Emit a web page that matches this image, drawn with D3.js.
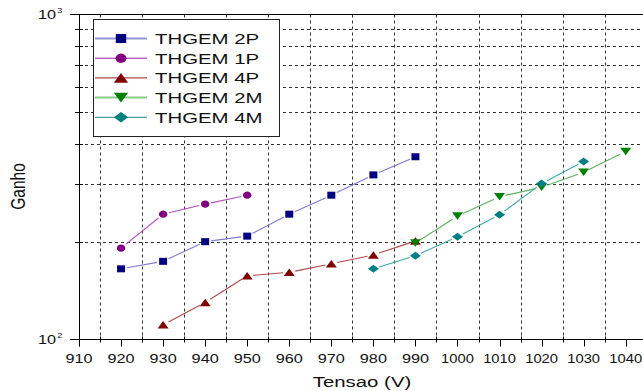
<!DOCTYPE html>
<html>
<head>
<meta charset="utf-8">
<script src="https://cdn.jsdelivr.net/npm/d3@7"></script>
<style>
  body { margin: 0; background: #fff; }
  svg { display: block; font-family: "Liberation Sans", Arial, sans-serif; }
</style>
</head>
<body>
<div id="chart"></div>
<script>
// data
var seriesNames = ["THGEM 2P", "THGEM 1P", "THGEM 4P", "THGEM 2M", "THGEM 4M"];
var volts2P = [920, 930, 940, 950, 960, 970, 980, 990];
var gain2P = [165, 174, 200, 208, 243, 278, 321, 365];
var volts1P = [920, 930, 940, 950];
var gain1P = [191, 243, 261, 278];
var volts4P = [930, 940, 950, 960, 970, 980, 990];
var gain4P = [111, 130, 157, 161, 171, 182, 201];
var volts2M = [990, 1000, 1010, 1020, 1030, 1040];
var gain2M = [198, 240, 275, 294, 327, 379];
var volts4M = [980, 990, 1000, 1010, 1020, 1030];
var gain4M = [165, 181, 207, 242, 302, 353];
var xTicks = [910, 920, 930, 940, 950, 960, 970, 980, 990, 1000, 1010, 1020, 1030, 1040];
var xMinor = [915, 925, 935, 945, 955, 965, 975, 985, 995, 1005, 1015, 1025, 1035];
var yMinor = [200, 300, 400, 500, 600, 700, 800, 900];
var yMajor = [{v: 100, exp: "2"}, {v: 1000, exp: "3"}];

var W = 643, H = 391;
var stretch = 1.36; // the picture's text is wider than normal

var series = [
  {name: seriesNames[0], xs: volts2P, ys: gain2P, shape: "square", fill: "#000080", line: "#7c7cd0", legendLine: "#9494d8", lw: 2},
  {name: seriesNames[1], xs: volts1P, ys: gain1P, shape: "circle", fill: "#800080", line: "#b050b8", legendLine: "#a020a8", lw: 1},
  {name: seriesNames[2], xs: volts4P, ys: gain4P, shape: "up", fill: "#800000", line: "#b04848", legendLine: "#a01818", lw: 1},
  {name: seriesNames[3], xs: volts2M, ys: gain2M, shape: "down", fill: "#008000", line: "#60b060", legendLine: "#88cc88", lw: 2},
  {name: seriesNames[4], xs: volts4M, ys: gain4M, shape: "diamond", fill: "#008080", line: "#40a8a8", legendLine: "#208888", lw: 1}
];

var x = d3.scaleLinear().domain([910, 1040]).range([79, 625.7]);
var y = d3.scaleLog().domain([100, 1000]).range([339.5, 14.5]);

var svg = d3.select("#chart").append("svg")
  .attr("width", W)
  .attr("height", H);

// grid
var grid = svg.append("g").attr("class", "grid")
  .attr("stroke", "#333").attr("stroke-width", 1).attr("stroke-dasharray", "3,3");
grid.selectAll("line.v").data(xMinor).enter().append("line")
  .attr("class", "v")
  .attr("x1", d => Math.round(x(d)) + 0.5).attr("x2", d => Math.round(x(d)) + 0.5)
  .attr("y1", y(1000)).attr("y2", y(100));
grid.selectAll("line.h").data(yMinor).enter().append("line")
  .attr("class", "h")
  .attr("y1", d => Math.round(y(d)) + 0.5).attr("y2", d => Math.round(y(d)) + 0.5)
  .attr("x1", 79).attr("x2", W);

// axes
var axes = svg.append("g").attr("stroke", "#000").attr("stroke-width", 1);
axes.append("line").attr("x1", 70).attr("x2", W).attr("y1", y(1000)).attr("y2", y(1000));
axes.append("line").attr("x1", 70).attr("x2", W).attr("y1", y(100)).attr("y2", y(100));
axes.append("line").attr("x1", 79.5).attr("x2", 79.5).attr("y1", y(1000)).attr("y2", y(100) + 7);
axes.selectAll("line.xt").data(xTicks).enter().append("line")
  .attr("class", "xt")
  .attr("x1", d => Math.round(x(d)) + 0.5).attr("x2", d => Math.round(x(d)) + 0.5)
  .attr("y1", y(100)).attr("y2", y(100) + 7);
axes.selectAll("line.xm").data(xMinor).enter().append("line")
  .attr("class", "xm")
  .attr("x1", d => Math.round(x(d)) + 0.5).attr("x2", d => Math.round(x(d)) + 0.5)
  .attr("y1", y(100) - 3).attr("y2", y(100) + 3);
axes.selectAll("line.ym").data(yMinor).enter().append("line")
  .attr("class", "ym")
  .attr("y1", d => Math.round(y(d)) + 0.5).attr("y2", d => Math.round(y(d)) + 0.5)
  .attr("x1", 75).attr("x2", 83);

// tick labels (four digit labels are squeezed a little, as in the picture)
svg.append("g").selectAll("g").data(xTicks).enter().append("g")
  .attr("transform", d => "translate(" + x(d) + "," + 362.5 + ") scale(" + (d >= 1000 ? 1.18 : 1.3) + ",1)")
  .append("text")
  .attr("text-anchor", "middle")
  .attr("font-size", 12.5)
  .attr("fill", "#111")
  .text(d => d);

var yLab = svg.append("g").selectAll("g").data(yMajor).enter().append("g")
  .attr("transform", d => "translate(56," + (y(d.v) + 4.5) + ") scale(1.3,1)");
yLab.append("text")
  .attr("text-anchor", "end")
  .attr("font-size", 12.5)
  .attr("fill", "#111")
  .text("10");
yLab.append("text")
  .attr("x", 1)
  .attr("y", -6)
  .attr("font-size", 7)
  .attr("fill", "#111")
  .text(d => d.exp);

// axis titles
svg.append("g")
  .attr("transform", "translate(362,386.5) scale(" + stretch + ",1)")
  .append("text")
  .attr("text-anchor", "middle")
  .attr("font-size", 15)
  .attr("fill", "#111")
  .text("Tensao (V)");
svg.append("g")
  .attr("transform", "translate(25,186.5) scale(" + stretch + ",1) rotate(-90)")
  .append("text")
  .attr("text-anchor", "middle")
  .attr("font-size", 15.5)
  .attr("fill", "#111")
  .text("Ganho");

function markerPath(shape, cx, cy, k) {
  var p = d3.path();
  var w, h;
  if (shape === "square") {
    w = 8 * k; h = 7 * k;
    p.rect(cx - w / 2, cy - h / 2, w, h);
  } else if (shape === "up") {
    w = 11 * k; h = 7.5 * k;
    p.moveTo(cx - w / 2, cy + h / 2); p.lineTo(cx + w / 2, cy + h / 2); p.lineTo(cx, cy - h / 2); p.closePath();
  } else if (shape === "down") {
    w = 11 * k; h = 7.5 * k;
    p.moveTo(cx - w / 2, cy - h / 2); p.lineTo(cx + w / 2, cy - h / 2); p.lineTo(cx, cy + h / 2); p.closePath();
  } else if (shape === "diamond") {
    w = 11 * k; h = 8 * k;
    p.moveTo(cx - w / 2, cy); p.lineTo(cx, cy - h / 2); p.lineTo(cx + w / 2, cy); p.lineTo(cx, cy + h / 2); p.closePath();
  } else {
    // stretched circle, like the text
    var rx = 4.2 * k, ry = 3.6 * k, n = 16;
    for (var i = 0; i <= n; i++) {
      var a = i / n * 2 * Math.PI;
      if (i === 0) p.moveTo(cx + rx * Math.cos(a), cy + ry * Math.sin(a));
      else p.lineTo(cx + rx * Math.cos(a), cy + ry * Math.sin(a));
    }
    p.closePath();
  }
  return p.toString();
}

// series: line segments stop short of the markers
var gap = 6;
var plot = svg.append("g");
series.forEach(function (s) {
  var pts = s.xs.map((v, i) => [x(v), y(s.ys[i])]);
  var segs = [];
  for (var i = 0; i < pts.length - 1; i++) {
    var a = pts[i], b = pts[i + 1];
    var dx = b[0] - a[0], dy = b[1] - a[1];
    var len = Math.sqrt(dx * dx + dy * dy);
    var ux = dx / len, uy = dy / len;
    segs.push([a[0] + ux * gap, a[1] + uy * gap, b[0] - ux * gap, b[1] - uy * gap]);
  }
  plot.append("g").selectAll("line").data(segs).enter().append("line")
    .attr("x1", d => d[0]).attr("y1", d => d[1])
    .attr("x2", d => d[2]).attr("y2", d => d[3])
    .attr("stroke", s.line)
    .attr("stroke-width", 1.1);
  plot.append("g").selectAll("path").data(pts).enter().append("path")
    .attr("d", d => markerPath(s.shape, d[0], d[1], 1))
    .attr("fill", s.fill);
});

// legend
var legend = svg.append("g");
legend.append("rect")
  .attr("x", 93.5).attr("y", 19.5)
  .attr("width", 186).attr("height", 117)
  .attr("fill", "#fff")
  .attr("stroke", "#222")
  .attr("stroke-width", 1);
var rows = legend.selectAll("g.row").data(series).enter().append("g")
  .attr("class", "row")
  .attr("transform", (d, i) => "translate(0," + (38.5 + i * 19.7) + ")");
rows.append("line")
  .attr("x1", 95).attr("x2", 147)
  .attr("stroke", d => d.legendLine)
  .attr("stroke-width", d => d.lw);
rows.append("path")
  .attr("d", d => markerPath(d.shape, 121, 0, 1.3))
  .attr("fill", d => d.fill);
rows.append("g")
  .attr("transform", "translate(155,5.5) scale(" + stretch + ",1)")
  .append("text")
  .attr("font-size", 15)
  .attr("fill", "#111")
  .text(d => d.name);
</script>
</body>
</html>
